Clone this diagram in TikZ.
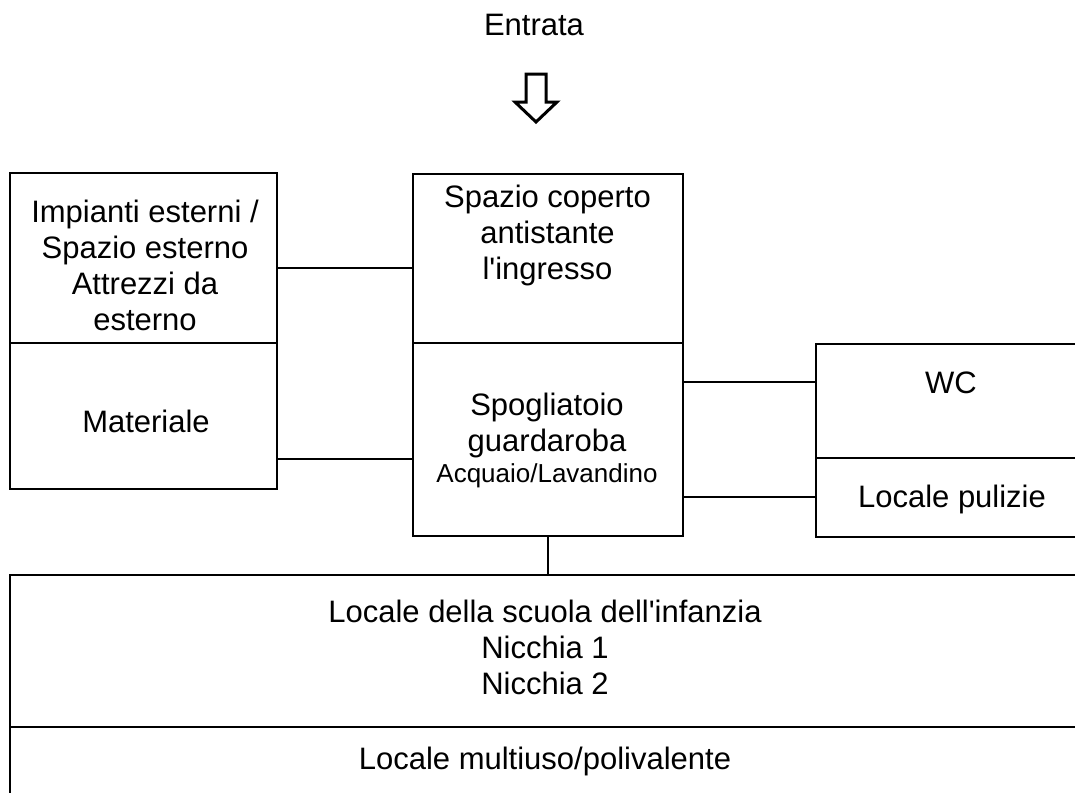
\documentclass[tikz,border=0pt]{standalone}
\usepackage{fontspec}
\setmainfont{Liberation Sans}
\begin{document}
\begin{tikzpicture}[x=1pt,y=-1pt,
  box/.style={draw, rectangle, inner sep=0pt, line width=2.2pt},
  conn/.style={draw, line width=2pt},
  txt/.style={inner sep=0pt, align=center, font=\fontsize{31}{36}\selectfont},
  small/.style={inner sep=0pt, font=\fontsize{26}{30}\selectfont}]
\useasboundingbox (0,0) rectangle (1075,792);
\clip (0,0) rectangle (1075,792);
% boxes
\node[box, minimum width=267pt, minimum height=170pt] (ext) at (143.5,258) {};
\node[box, minimum width=267pt, minimum height=146pt] (mat) at (143.5,416) {};
\node[box, minimum width=270pt, minimum height=169pt] (cov) at (548,258.5) {};
\node[box, minimum width=270pt, minimum height=193pt] (spo) at (548,439.5) {};
\node[box, minimum width=284pt, minimum height=114pt] (wc) at (958,401) {};
\node[box, minimum width=284pt, minimum height=79pt] (pul) at (958,497.5) {};
\node[box, minimum width=1090pt, minimum height=152pt] (scu) at (555,651) {};
\node[box, minimum width=1090pt, minimum height=83pt] (mul) at (555,768.5) {};
% texts
\node[txt, anchor=base] (tentr) at (534,36) {Entrata};
\node[txt, anchor=north] (text) at (145,200) {Impianti esterni /\\Spazio esterno\\Attrezzi da\\esterno};
\node[txt, anchor=base] (tmat) at (146,432) {Materiale};
\node[txt, anchor=north] (tcov) at (547.5,185) {Spazio coperto\\antistante\\l\textquotesingle ingresso};
\node[txt, anchor=north] (tspo) at (547,393) {Spogliatoio\\guardaroba};
\node[small, anchor=base] (tacq) at (547,482) {Acquaio/Lavandino};
\node[txt, anchor=base] (twc) at (951,393) {WC};
\node[txt, anchor=base] (tpul) at (952,507) {Locale pulizie};
\node[txt, anchor=north] (tscu) at (545,600) {Locale della scuola dell\textquotesingle infanzia\\Nicchia 1\\Nicchia 2};
\node[txt, anchor=base] (tmul) at (545,769) {Locale multiuso/polivalente};
% entrance arrow
\coordinate (arr) at (536,122);
\draw[line width=3pt, line join=miter] (arr) -- (515,102) -- (526,102) -- (526,74) -- (546,74) -- (546,102) -- (557,102) -- cycle;
% connectors
\draw[conn] (ext.east |- 0,268) -- (cov.west |- 0,268);
\draw[conn] (mat.east |- 0,459) -- (spo.west |- 0,459);
\draw[conn] (spo.east |- 0,382) -- (wc.west |- 0,382);
\draw[conn] (spo.east |- 0,497) -- (pul.west |- 0,497);
\draw[conn] (spo.south) -- (spo.south |- scu.north);
\end{tikzpicture}
\end{document}
